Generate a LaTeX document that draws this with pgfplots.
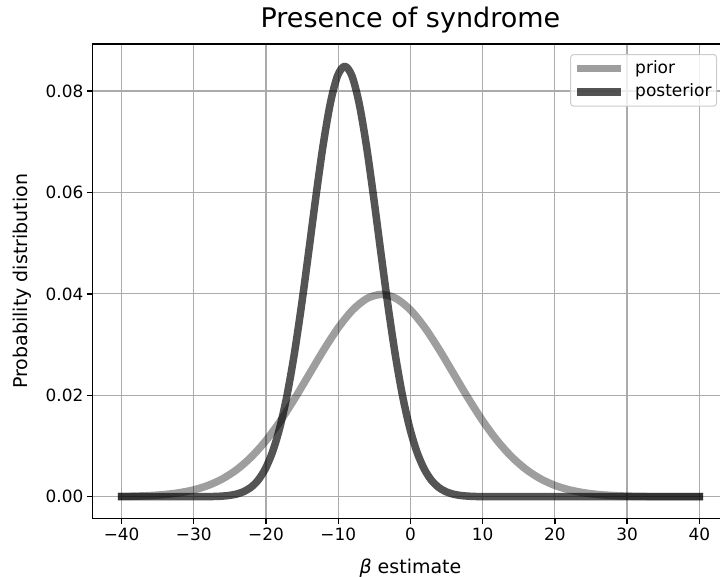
\documentclass[border=0pt]{standalone}
\usepackage{fontspec}
\setmainfont{DejaVu Sans}
\usepackage{pgfplots}
\pgfplotsset{compat=1.18}
\begin{document}
\begin{tikzpicture}
\begin{axis}[
  name=ax,
  scale only axis,
  width=635.5bp, height=474.2bp,
  xmin=-44, xmax=44,
  ymin=-0.00425, ymax=0.08925,
  scaled y ticks=false,
  axis line style={black, line width=1.3bp},
  tick align=outside,
  tick pos=left,
  major tick length=5.9bp,
  every tick/.style={black, line width=1.3bp},
  xtick={-40,-30,-20,-10,0,10,20,30,40},
  xticklabels={−40,−30,−20,−10,0,10,20,30,40},
  ytick={0,0.02,0.04,0.06,0.08},
  yticklabels={0.00,0.02,0.04,0.06,0.08},
  ticklabel style={font=\fontsize{16.9bp}{20bp}\selectfont},
  grid=major,
  major grid style={black!33, line width=1.2bp},
  title={Presence of syndrome},
  title style={font=\fontsize{27bp}{32bp}\selectfont, at={(axis description cs:0.5,1.02278)}, anchor=base},
  xlabel={{\itshape β} estimate},
  xlabel style={font=\fontsize{19bp}{23bp}\selectfont, at={(axis description cs:0.5,-0.11599)}, anchor=base},
  ylabel={Probability distribution},
  ylabel style={font=\fontsize{19bp}{23bp}\selectfont, at={(axis description cs:-0.10276,0.5)}, anchor=base, rotate=0},
  legend style={at={(axis description cs:0.9824,0.9791)}, anchor=north east,
    draw=black!20, line width=1bp, rounded corners=3bp, fill=white, fill opacity=0.8, text opacity=1,
    font=\fontsize{17bp}{20bp}\selectfont, inner xsep=3bp, inner ysep=5.5bp,
    row sep=6.7bp, column sep=8bp,
    nodes={inner xsep=2bp, inner ysep=0bp, text height=13bp, text depth=4bp}},
  legend cell align=left,
  legend image code/.code={\draw[#1, line cap=butt] (0bp,0bp) -- (44bp,0bp);},
]
\addplot[draw=black, draw opacity=0.38, line width=7.5bp, line cap=rect, line join=round, smooth, no markers] coordinates {
(-40,0.0000612) (-38,0.000123) (-36,0.000238) (-34,0.000443) (-32,0.000792)
(-30,0.001358) (-28,0.002239) (-26,0.003547) (-24,0.005399) (-22,0.007895)
(-20,0.011092) (-18,0.014973) (-16,0.019419) (-14,0.024197) (-12,0.028969)
(-10,0.033322) (-8,0.036827) (-6,0.039104) (-4,0.039894) (-2,0.039104)
(0,0.036827) (2,0.033322) (4,0.028969) (6,0.024197) (8,0.019419)
(10,0.014973) (12,0.011092) (14,0.007895) (16,0.005399) (18,0.003547)
(20,0.002239) (22,0.001358) (24,0.000792) (26,0.000443) (28,0.000238)
(30,0.000123) (32,0.0000612) (34,0.000029) (36,0.000013) (38,0.0000059)
(40,0.0000025)
};
\addlegendentry{prior}
\addplot[draw=black, draw opacity=0.67, line width=7.5bp, line cap=rect, line join=round, smooth, no markers] coordinates {
(-40,0) (-36,0) (-32,0) (-29.1,0.0000099) (-28.1,0.000024) (-27.1,0.0000554)
(-26.1,0.000122) (-25.1,0.000258) (-24.1,0.000521) (-23.1,0.001005) (-22.1,0.001851)
(-21.1,0.003261) (-20.1,0.005489) (-19.1,0.008829) (-18.1,0.013570) (-17.1,0.019939)
(-16.1,0.027998) (-15.1,0.037578) (-14.1,0.048201) (-13.1,0.059092) (-12.1,0.069237)
(-11.1,0.077533) (-10.1,0.082980) (-9.1,0.084880) (-8.1,0.082980) (-7.1,0.077533)
(-6.1,0.069237) (-5.1,0.059092) (-4.1,0.048201) (-3.1,0.037578) (-2.1,0.027998)
(-1.1,0.019939) (-0.1,0.013570) (0.9,0.008829) (1.9,0.005489) (2.9,0.003261)
(3.9,0.001851) (4.9,0.001005) (5.9,0.000521) (6.9,0.000258) (7.9,0.000122)
(8.9,0.0000554) (9.9,0.000024) (10.9,0.0000099) (13,0) (16,0) (20,0)
(25,0) (30,0) (35,0) (40,0)
};
\addlegendentry{posterior}
\end{axis}
\pgfresetboundingbox
\path[use as bounding box] ([shift={(-92.7bp,-58.7bp)}]ax.south west) rectangle ([shift={(627.3bp,518.3bp)}]ax.south west);
\end{tikzpicture}
\end{document}
